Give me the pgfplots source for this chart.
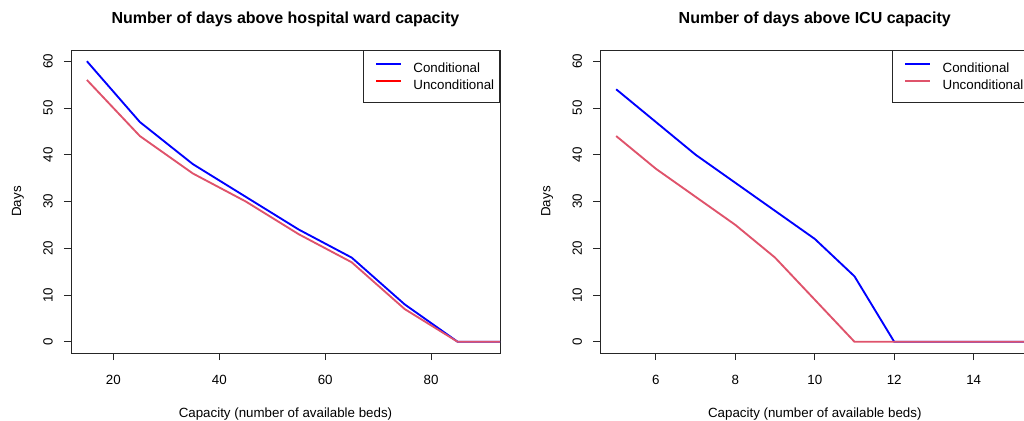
\documentclass[border=0pt]{standalone}
\usepackage{fontspec}
\setmainfont{Liberation Sans}
\usepackage{pgfplots}
\pgfplotsset{compat=1.18}
\definecolor{rblue}{RGB}{0,0,255}
\definecolor{rred}{RGB}{223,83,107}
\definecolor{pured}{RGB}{255,0,0}
\pgfplotsset{
  rstyle/.style={
    scale only axis, anchor=south west,
    width=321.75pt, height=227.25pt,
    ymin=-2.4, ymax=62.4,
    ytick={0,10,...,60},
    axis line style={black!85, line width=0.7pt},
    tick style={black!85, line width=0.7pt},
    tick align=outside, major tick length=5.25pt,
    xtick pos=bottom, ytick pos=left,
    /pgf/number format/assume math mode=true,
    tick label style={font=\fontsize{10}{12}\selectfont},
    xticklabel style={anchor=base, yshift=-18pt},
    yticklabel style={rotate=90, anchor=base},
    yticklabel shift=8.5pt,
    label style={font=\fontsize{10}{12}\selectfont},
    xlabel style={at={(axis description cs:0.5,0)}, anchor=base, yshift=-48pt},
    ylabel style={at={(axis description cs:-0.11655,0.5)}, anchor=base},
    title style={at={(axis description cs:0.5,1)}, anchor=base, yshift=14pt, font=\bfseries\fontsize{12}{14}\selectfont},
    legend style={at={(rel axis cs:1,1)}, anchor=north east, draw=black!85, line width=0.7pt,
      font=\fontsize{10}{12}\selectfont, inner xsep=4pt, inner ysep=9.2pt,
      row sep=5pt, column sep=8.5pt,
      nodes={inner sep=0pt, text height=7pt, text depth=0pt}},
    legend cell align=left,
    legend image code/.code={\path (0pt,3.5pt); \draw[#1, line width=1.4pt] (4.75pt,3.5pt) -- (23.5pt,3.5pt);},
    every axis plot/.append style={line width=1.4pt},
  }
}
\begin{document}
\begin{tikzpicture}
\path[use as bounding box, clip] (0,0) rectangle (768pt,315.75pt);
\begin{axis}[rstyle, at={(53.25pt,51pt)},
  xmin=12, xmax=93, xtick={20,40,60,80},
  title={Number of days above hospital ward capacity},
  xlabel={Capacity (number of available beds)}, ylabel={Days}]
\addplot[rblue, forget plot] coordinates {(15,60)(20,53.5)(25,47)(35,38)(45,31)(55,24)(65,18)(75,8)(85,0)(100,0)};
\addplot[rred, forget plot] coordinates {(15,56)(20,50)(25,44)(35,36)(45,30)(55,23)(65,17)(75,7)(85,0)(100,0)};
\addlegendimage{rblue}
\addlegendentry{Conditional}
\addlegendimage{pured}
\addlegendentry{Unconditional}
\end{axis}
\begin{axis}[rstyle, at={(450.2pt,51pt)},
  xmin=4.6, xmax=15.4, xtick={6,8,10,12,14},
  title={Number of days above ICU capacity},
  xlabel={Capacity (number of available beds)}, ylabel={Days}]
\addplot[rblue, forget plot] coordinates {(5,54)(6,47)(7,40)(8,34)(9,28)(10,22)(11,14)(12,0)(20,0)};
\addplot[rred, forget plot] coordinates {(5,44)(6,37)(7,31)(8,25)(9,18)(10,9)(11,0)(20,0)};
\addlegendimage{rblue}
\addlegendentry{Conditional}
\addlegendimage{rred}
\addlegendentry{Unconditional}
\end{axis}
\end{tikzpicture}
\end{document}
